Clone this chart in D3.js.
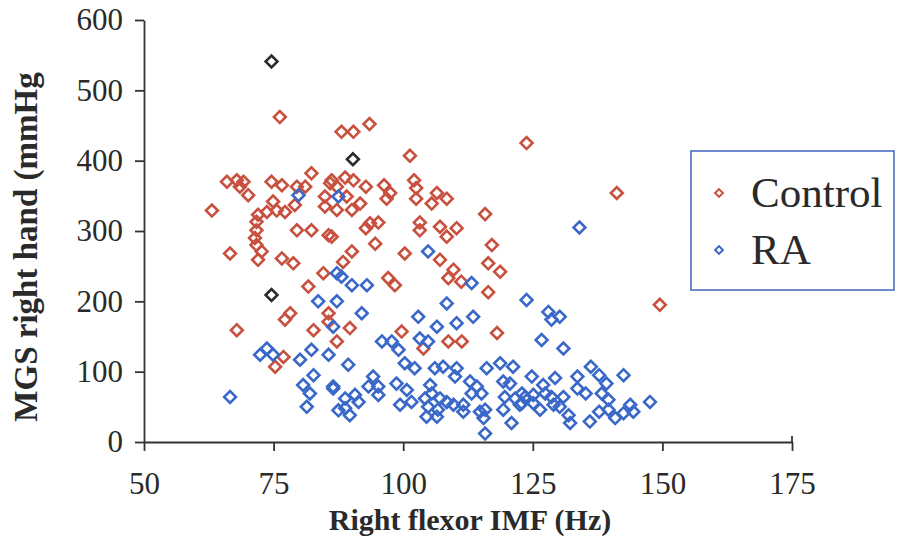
<!DOCTYPE html>
<html><head><meta charset="utf-8">
<script src="https://cdn.jsdelivr.net/npm/d3@7"></script>
<style>body{margin:0;background:#fff}svg{display:block}</style>
</head><body>
<svg id="c" width="897" height="538"></svg>
<script>
// Control group (x = Right flexor IMF Hz, y = MGS right hand mmHg)
const controlX = [76.2,88.1,90.4,93.5,123.8,101.3,66.0,67.9,69.2,68.5,70.1,63.1,74.6,76.6,79.5,81.1,82.3,85.9,84.9,74.9,73.7,72.0,75.6,77.2,79.1,84.9,87.2,71.7,71.7,79.5,82.3,85.6,71.4,71.7,66.6,72.7,72.0,76.6,78.8,84.6,81.7,78.2,77.2,85.6,85.6,82.7,67.9,87.2,76.9,75.3,88.8,90.4,86.2,87.2,92.8,96.3,102.1,102.5,97.5,96.8,102.5,106.5,108.4,105.5,89.1,91.7,90.1,115.8,92.8,95.2,93.6,103.2,103.2,107.1,110.3,108.4,94.6,86.2,117.1,90.1,88.4,100.3,107.1,109.7,108.7,116.4,118.7,97.1,98.4,111.2,116.4,89.7,99.7,118.1,103.9,108.7,111.3,141.2,149.5];
const controlY = [462,441,441,452,425,407,370,372,370,363,351,329,370,365,363,363,382,368,349,342,327,323,329,327,337,335,330,313,301,301,301,294,290,280,268,271,259,261,254,240,221,183,174,183,171,159,159,143,121,107,376,372,372,363,363,365,372,361,354,346,346,354,346,339,349,339,330,324,304,312,311,312,301,306,304,292,282,292,280,271,256,268,259,245,233,254,242,233,223,228,213,162,157,155,133,143,143,354,195];
// RA group
const raX = [79.8,87.5,83.6,87.2,87.2,86.5,72.4,73.7,74.9,80.1,82.3,85.6,82.7,80.7,82.0,86.5,81.4,66.6,87.5,104.8,88.1,90.1,93.0,113.2,123.8,108.4,92.0,102.9,113.5,106.5,110.3,95.9,97.8,99.1,103.2,104.8,89.4,100.3,102.2,106.1,107.7,110.3,110.0,116.1,118.7,121.2,94.2,93.3,95.2,95.2,98.7,100.7,86.5,88.8,90.7,91.4,88.8,89.7,99.4,101.6,105.2,105.5,104.2,107.1,108.4,104.8,106.7,104.5,106.5,109.7,111.6,111.6,112.9,114.2,113.2,115.1,114.8,115.8,115.5,115.8,119.3,120.6,119.6,121.6,119.3,120.9,122.5,123.5,134.0,128.0,128.6,130.2,126.7,130.9,124.8,127.0,129.3,127.4,125.1,128.6,130.9,125.1,126.4,129.0,130.2,131.9,132.2,133.6,133.6,135.2,136.2,137.8,139.2,138.3,139.6,137.8,136.0,139.6,140.9,142.5,142.5,143.8,144.4,147.6,122.9,122.9];
const raY = [351,349,200,240,200,164,124,133,124,117,131,124,95,81,69,79,50,64,45,271,235,223,223,226,202,197,183,178,178,164,169,143,143,131,147,143,110,112,105,105,107,105,93,105,112,107,93,79,79,67,83,74,76,62,67,57,48,38,53,57,81,69,62,62,57,50,46,36,36,53,53,43,86,79,69,69,43,46,34,12,86,83,64,62,46,27,53,64,305,185,174,178,145,133,93,81,91,69,67,64,64,55,46,53,50,38,27,93,76,69,107,95,83,69,60,43,29,46,34,95,41,53,43,57,69,55];
// unlabelled dark points
const otherX = [74.6,90.3,74.6];
const otherY = [541,402,209];

const xTicks = [50,75,100,125,150,175];
const yTicks = [0,100,200,300,400,500,600];
const seriesNames = ["Control","RA"];

const svg = d3.select("#c");
const x = d3.scaleLinear().domain([50,175]).range([144,792]);
const y = d3.scaleLinear().domain([0,600]).range([442,20]);
const serif = "'Liberation Serif','Times New Roman',serif";
const axisCol = "#333";

const xAxis = svg.append("g").attr("transform","translate(0,442)")
  .call(d3.axisBottom(x).tickValues(xTicks).tickSize(9).tickSizeOuter(0).tickPadding(21));
const yAxis = svg.append("g").attr("transform","translate(144,0)")
  .call(d3.axisLeft(y).tickValues(yTicks).tickSize(9).tickSizeOuter(0).tickPadding(12));
[xAxis,yAxis].forEach(a=>{
  a.select(".domain").attr("stroke",axisCol).attr("stroke-width",1.8);
  a.selectAll(".tick line").attr("stroke",axisCol).attr("stroke-width",1.8);
  a.selectAll(".tick text").attr("fill","#2a2a2a").style("font-family",serif).style("font-size","31px");
});
svg.append("line").attr("x1",x(175)).attr("x2",x(175)).attr("y1",436).attr("y2",442).attr("stroke",axisCol).attr("stroke-width",1.8);

const sym = d3.symbol().type(d3.symbolSquare).size(70);
function plot(xs, ys, col){
  svg.append("g").selectAll("path").data(xs.map((v,i)=>[v,ys[i]])).join("path")
    .attr("d",sym)
    .attr("transform",d=>`translate(${x(d[0])},${y(d[1])}) rotate(45)`)
    .attr("fill","none").attr("stroke",col).attr("stroke-width",2.6);
}
const red = "#c8503f", blue = "#3a68c8";
plot(controlX, controlY, red);
plot(raX, raY, blue);
plot(otherX, otherY, "#2b2b2b");

// axis titles
svg.append("text").attr("x",470).attr("y",530).attr("text-anchor","middle")
  .style("font-family",serif).style("font-size","30px").style("font-weight","bold").attr("fill","#2a2a2a")
  .text("Right flexor IMF (Hz)");
svg.append("text").attr("transform","translate(26,247) rotate(-90)").attr("text-anchor","middle")
  .attr("dominant-baseline","central")
  .style("font-family",serif).style("font-size","33px").style("font-weight","bold").attr("fill","#2a2a2a")
  .text("MGS right hand (mmHg");

// legend
const lg = svg.append("g");
lg.append("rect").attr("x",691).attr("y",151).attr("width",203).attr("height",139)
  .attr("fill","#fff").attr("stroke","#4a6cc0").attr("stroke-width",1.6);
const lsym = d3.symbol().type(d3.symbolSquare).size(30);
[[red,193,207],[blue,250,264]].forEach((r,i)=>{
  lg.append("path").attr("d",lsym).attr("transform",`translate(719,${r[1]}) rotate(45)`)
    .attr("fill","none").attr("stroke",r[0]).attr("stroke-width",2);
  lg.append("text").attr("x",751).attr("y",r[2]).style("font-family",serif).style("font-size","43px")
    .attr("fill","#2a2a2a").text(seriesNames[i]);
});
</script>
</body></html>
